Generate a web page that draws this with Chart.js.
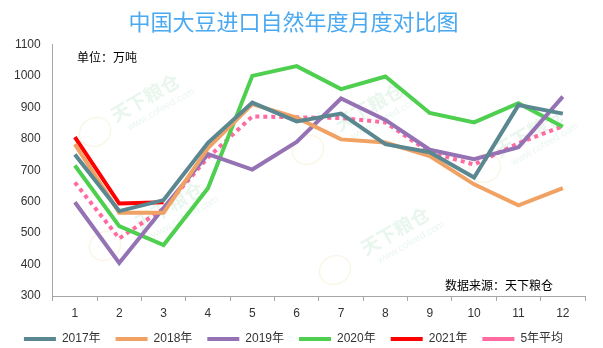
<!DOCTYPE html>
<html lang="zh-CN">
<head>
    <meta charset="UTF-8">
    <title>中国大豆进口自然年度月度对比图</title>
    <script src="https://cdn.jsdelivr.net/npm/chart.js"></script>
    <style>
        html, body {
            margin: 0;
            padding: 0;
            background: #ffffff;
        }
        .chart-box {
            width: 603px;
            height: 348px;
        }
    </style>
</head>
<body>
    <div class="chart-box">
        <canvas id="importChart"></canvas>
    </div>

    <script>
        // 月份
        const months = ['1', '2', '3', '4', '5', '6', '7', '8', '9', '10', '11', '12'];

        // 各年月度进口量（万吨）
        const y2017 = [750, 570, 605, 787, 915, 855, 880, 783, 757, 677, 907, 880];
        const y2018 = [783, 565, 565, 770, 910, 867, 798, 788, 745, 655, 588, 643];
        const y2019 = [598, 405, 580, 751, 702, 790, 928, 860, 765, 735, 773, 934];
        const y2020 = [715, 522, 462, 643, 1000, 1031, 958, 998, 882, 852, 913, 838];
        const y2021 = [805, 594, 598];
        const avg5 = [661, 483, 578, 740, 871, 868, 866, 852, 757, 718, 786, 840];

        const yTicks = [300, 400, 500, 600, 700, 800, 900, 1000, 1100];

        const numFont = '"Liberation Sans", "Noto Sans CJK SC", sans-serif';
        const cjkFont = '"Noto Sans CJK SC", sans-serif';

        // 单位 / 数据来源 说明文字
        const notes = {
            id: 'notes',
            afterDraw(chart) {
                const ctx = chart.ctx;
                ctx.save();
                ctx.fillStyle = '#000000';
                ctx.font = '12px ' + cjkFont;
                ctx.textBaseline = 'middle';
                ctx.textAlign = 'left';
                ctx.fillText('单位：万吨', 77, 57);
                ctx.fillText('数据来源：天下粮仓', 445, 285);
                ctx.restore();
            }
        };

        // 淡色水印
        const watermark = {
            id: 'watermark',
            beforeDatasetsDraw(chart) {
                const ctx = chart.ctx;
                const spots = [
                    [148, 103, 95, 132],
                    [372, 112, 308, 150],
                    [532, 138, 485, 168],
                    [172, 211, 105, 246],
                    [398, 236, 335, 270]
                ];
                ctx.save();
                spots.forEach(([tx, ty, lx, ly]) => {
                    ctx.save();
                    ctx.strokeStyle = 'rgba(235, 220, 160, 0.25)';
                    ctx.lineWidth = 1.5;
                    ctx.beginPath();
                    ctx.ellipse(lx, ly, 16, 14, -0.5, 0, Math.PI * 2);
                    ctx.stroke();
                    ctx.restore();

                    ctx.save();
                    ctx.translate(tx, ty);
                    ctx.rotate(-0.52);
                    ctx.textAlign = 'center';
                    ctx.textBaseline = 'middle';
                    ctx.fillStyle = 'rgba(120, 200, 150, 0.16)';
                    ctx.font = 'bold 19px ' + cjkFont;
                    ctx.fillText('天下粮仓', 0, -6);
                    ctx.font = '10px ' + numFont;
                    ctx.fillText('www.cofeed.com', 8, 12);
                    ctx.restore();
                });
                ctx.restore();
            }
        };

        function series(label, data, color, dash) {
            return {
                label: label,
                data: data,
                borderColor: color,
                backgroundColor: color,
                borderWidth: 4,
                borderDash: dash || [],
                borderCapStyle: 'butt',
                pointRadius: 0,
                pointHoverRadius: 0,
                tension: 0,
                fill: false
            };
        }

        const ctx = document.getElementById('importChart').getContext('2d');
        new Chart(ctx, {
            type: 'line',
            data: {
                labels: months,
                datasets: [
                    series('2017年', y2017, '#5b8791'),
                    series('2018年', y2018, '#f0a264'),
                    series('2019年', y2019, '#9572b4'),
                    series('2020年', y2020, '#4fcf4f'),
                    series('2021年', y2021, '#ff0000'),
                    series('5年平均', avg5, '#ff6aa0', [4, 4])
                ]
            },
            options: {
                responsive: true,
                maintainAspectRatio: false,
                animation: false,
                layout: {
                    // legend sits a little lower than the default box would allow
                    padding: { left: 2, right: 18, top: 0, bottom: -7 }
                },
                plugins: {
                    title: {
                        display: true,
                        text: '中国大豆进口自然年度月度对比图',
                        color: '#4aa9f0',
                        font: { family: cjkFont, size: 22, weight: 'normal' },
                        padding: { top: 8, bottom: 10 }
                    },
                    legend: {
                        position: 'bottom',
                        labels: {
                            usePointStyle: true,
                            pointStyle: 'line',
                            pointStyleWidth: 32,
                            boxWidth: 32,
                            color: '#333333',
                            font: { family: numFont, size: 12 },
                            padding: 15
                        }
                    },
                    tooltip: { enabled: false }
                },
                scales: {
                    x: {
                        offset: true,
                        afterFit(axis) {
                            axis.height = 22;
                        },
                        grid: {
                            display: true,
                            offset: true,
                            drawOnChartArea: false,
                            drawTicks: true,
                            tickLength: 5,
                            color: '#a6a6a6'
                        },
                        border: { display: true, color: '#a6a6a6', width: 1 },
                        ticks: {
                            color: '#333333',
                            font: { family: numFont, size: 12 },
                            padding: 5,
                            maxRotation: 0
                        }
                    },
                    y: {
                        min: 300,
                        max: 1100,
                        afterBuildTicks(axis) {
                            axis.ticks = yTicks.map(v => ({ value: v }));
                        },
                        grid: { display: false, drawTicks: false },
                        border: { display: true, color: '#a6a6a6', width: 1 },
                        ticks: {
                            color: '#333333',
                            font: { family: numFont, size: 12 },
                            padding: 12,
                            callback: v => String(v)
                        }
                    }
                }
            },
            plugins: [watermark, notes]
        });
    </script>
</body>
</html>
